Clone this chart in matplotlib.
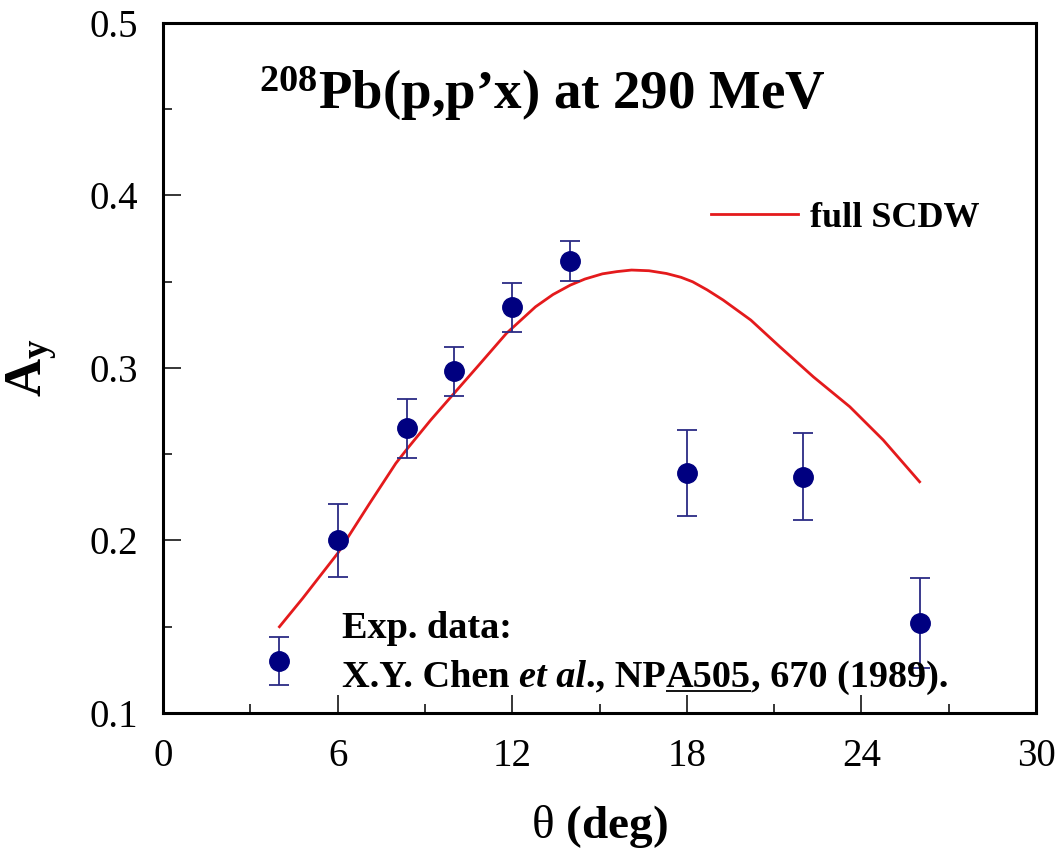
import matplotlib
matplotlib.use("Agg")
import matplotlib.pyplot as plt
from matplotlib.transforms import offset_copy

plt.rcParams['font.family'] = ['Liberation Serif', 'DejaVu Serif']
plt.rcParams['mathtext.fontset'] = 'custom'
plt.rcParams['mathtext.rm'] = 'Liberation Serif'
plt.rcParams['mathtext.bf'] = 'Liberation Serif:bold'
plt.rcParams['mathtext.it'] = 'Liberation Serif:italic'

# measured analyzing power, Chen et al.
theta_exp = [4, 6, 8.4, 10, 12, 14, 18, 22, 26]
ay_exp = [0.130, 0.200, 0.265, 0.298, 0.335, 0.362, 0.239, 0.237, 0.152]
ay_err = [0.014, 0.021, 0.017, 0.014, 0.014, 0.0115, 0.025, 0.025, 0.026]

# full SCDW calculation
theta_calc = [4.0, 4.8, 6.0, 7.1, 8.0, 8.4, 9.2, 9.9, 10.8, 11.8, 12.8, 13.4,
              14.0, 14.5, 15.1, 15.6, 16.1, 16.7, 17.3, 17.8, 18.2, 18.7,
              19.25, 20.2, 21.2, 22.35, 23.6, 24.75, 26.0]
ay_calc = [0.150, 0.1665, 0.1925, 0.2215, 0.2447, 0.2533, 0.2698, 0.2833,
           0.3006, 0.320, 0.3354, 0.3425, 0.348, 0.3515, 0.3545, 0.3558,
           0.3567, 0.3563, 0.3547, 0.3525, 0.3499, 0.3452, 0.3393, 0.3277,
           0.3122, 0.2948, 0.2775, 0.2582, 0.234]

x_ticks = [0, 6, 12, 18, 24, 30]
y_ticks = [0.1, 0.2, 0.3, 0.4, 0.5]


def draw_segments(ax, x, y, segments, size):
    """Write text pieces one after another on a line, starting at data (x, y)."""
    fig = ax.figure
    renderer = fig.canvas.get_renderer()
    dx = 0.0
    for text, style, underline in segments:
        tr = offset_copy(ax.transData, fig=fig, x=dx, y=0, units='dots')
        t = ax.text(x, y, text, transform=tr, fontsize=size, fontweight='bold',
                    fontstyle=style, ha='left', va='baseline')
        w = t.get_window_extent(renderer).width
        if underline:
            x0, y0 = ax.transData.transform((x, y))
            x0 += dx
            line_y = y0 - 4
            inv = ax.transData.inverted()
            (ux0, uy), (ux1, _) = inv.transform([(x0, line_y), (x0 + w, line_y)])
            ax.plot([ux0, ux1], [uy, uy], color='black', lw=1.3,
                    solid_capstyle='butt', clip_on=False)
        dx += w


fig = plt.figure(figsize=(10.58, 8.52), dpi=100)
ax = fig.add_axes([0.1541, 0.1631, 0.8251, 0.8102])

ax.plot(theta_calc, ay_calc, color='#e41a1c', lw=2.0, label='full SCDW',
        solid_joinstyle='round', zorder=2)
ax.errorbar(theta_exp, ay_exp, yerr=ay_err, fmt='o', color='#000080',
            markersize=14, ecolor='#2b2b85', elinewidth=1.3, capsize=7,
            capthick=1.3, zorder=3)

ax.set_xlim(0, 30)
ax.set_ylim(0.1, 0.5)
ax.set_xticks(x_ticks)
ax.set_xticks(range(3, 30, 6), minor=True)
ax.set_yticks(y_ticks)
ax.set_yticks([0.15, 0.25, 0.35, 0.45], minor=True)
ax.set_yticklabels([f'{v:.1f}' for v in y_ticks])

for side in ax.spines.values():
    side.set_linewidth(2.2)
ax.tick_params(which='both', direction='in', top=False, right=False,
               labelsize=28, width=1.1)
ax.tick_params(which='major', length=13)
ax.tick_params(which='minor', length=6.5)
ax.tick_params(axis='y', pad=18)
ax.tick_params(axis='x', pad=18)

ax.set_xlabel(r'$\mathrm{\theta}$ (deg)', fontsize=34, fontweight='bold', labelpad=20)
ax.set_ylabel(r'$\mathbf{A_y}$', fontsize=38, labelpad=22)

ax.text(3.3, 0.45, r'$\mathbf{^{208}}$Pb(p,p’x) at 290 MeV', fontsize=39.5,
        fontweight='bold', ha='left', va='baseline')

ax.legend(loc='center left', bbox_to_anchor=((711 - 163) / 873, 1 - (218 - 22.7) / 690.3),
          frameon=False, prop={'size': 26, 'weight': 'bold'}, handlelength=2.4,
          handletextpad=0.35, borderpad=0, borderaxespad=0)

ax.text(6.15, 0.1435, 'Exp. data:', fontsize=27.5, fontweight='bold',
        ha='left', va='baseline')
draw_segments(ax, 6.15, 0.1153, [
    ('X.Y. Chen ', 'normal', False),
    ('et al', 'italic', False),
    ('., NP', 'normal', False),
    ('A505', 'normal', True),
    (', 670 (1989).', 'normal', False),
], 27.5)

fig.savefig('out.png', dpi=100)
